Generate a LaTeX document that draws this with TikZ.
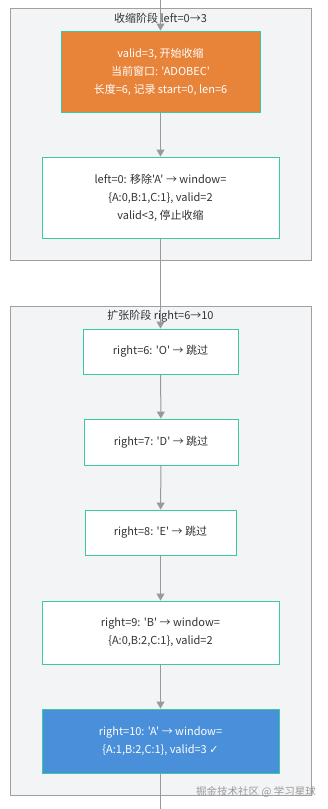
\documentclass[tikz,border=0pt]{standalone}
\usepackage{fontspec}
\newfontfamily\cjk{Noto Sans CJK SC}
\newfontfamily\symfont{DejaVu Sans}
\usetikzlibrary{arrows.meta}
\definecolor{orangefill}{HTML}{E8833A}
\definecolor{bluefill}{HTML}{4A8FD9}
\definecolor{tealline}{HTML}{3CC9A2}
\definecolor{groupfill}{HTML}{F3F4F6}
\definecolor{groupline}{HTML}{A0A0A0}
\definecolor{edgecol}{HTML}{999999}
\definecolor{txt}{HTML}{333333}
\begin{document}
\begin{tikzpicture}[x=1pt,y=-1pt,
  grp/.style={draw=groupline,fill=groupfill,line width=0.9pt},
  grptitle/.style={font=\cjk\fontsize{11}{14}\selectfont,text=txt,inner sep=0pt},
  box/.style={draw=tealline,line width=0.9pt,fill=white,text=txt,align=center,
    font=\cjk\fontsize{11}{18}\selectfont,inner sep=0pt},
  hot/.style={box,fill=orangefill,text=white},
  cool/.style={box,fill=bluefill,text=white},
  arr/.style={draw=edgecol,line width=1pt,-{Triangle[width=8pt,length=7pt]}},
  plain/.style={draw=edgecol,line width=1pt}]
\useasboundingbox (0,0) rectangle (327,809);
\fill[white] (0,0) rectangle (327,809);
% groups
\draw[grp] (10,8) rectangle (311,260);
\draw[grp] (10,306) rectangle (311,795);
% nodes
\node[hot,minimum width=199pt,minimum height=81pt] (A) at (160.5,71.5)
  {valid=3, 开始收缩\\当前窗口: 'ADOBEC'\\长度=6, 记录 start=0, len=6};
\node[box,minimum width=237pt,minimum height=81pt] (B) at (160.5,197.5)
  {left=0: 移除'A' → window=\\\{A:0,B:1,C:1\}, valid=2\\valid<3, 停止收缩};
\node[box,minimum width=155pt,minimum height=45pt] (C) at (160.5,351.5)
  {right=6: 'O' → 跳过};
\node[box,minimum width=154pt,minimum height=46pt] (D) at (161,442)
  {right=7: 'D' → 跳过};
\node[box,minimum width=151pt,minimum height=45pt] (E) at (160.5,532.5)
  {right=8: 'E' → 跳过};
\node[box,minimum width=237pt,minimum height=63pt] (F) at (160.5,632.5)
  {right=9: 'B' → window=\\\{A:0,B:2,C:1\}, valid=2};
\node[cool,minimum width=237pt,minimum height=64pt] (G) at (160.5,741)
  {right=10: 'A' → window=\\\{A:1,B:2,C:1\}, valid=3 {\symfont\fontsize{11}{18}\selectfont ✓}};
\coordinate (top) at (160.5,0);
\coordinate (bot) at (160.5,809);
% edges
\draw[arr] (top) -- (A.north);
\draw[arr] (A) -- (B);
\draw[arr] (B) -- (C);
\draw[arr] (C) -- (D);
\draw[arr] (D) -- (E);
\draw[arr] (E) -- (F);
\draw[arr] (F) -- (G);
\draw[plain] (G) -- (bot);
% titles
\node[grptitle] (t1) at (160.5,18) {收缩阶段 left=0→3};
\node[grptitle] (t2) at (160.5,316) {扩张阶段 right=6→10};
\node[font=\cjk\fontsize{10.5}{12}\selectfont,text=black!40,inner sep=0pt,anchor=east] (wm) at (316,792) {掘金技术社区 @ 学习星球};
\end{tikzpicture}
\end{document}
